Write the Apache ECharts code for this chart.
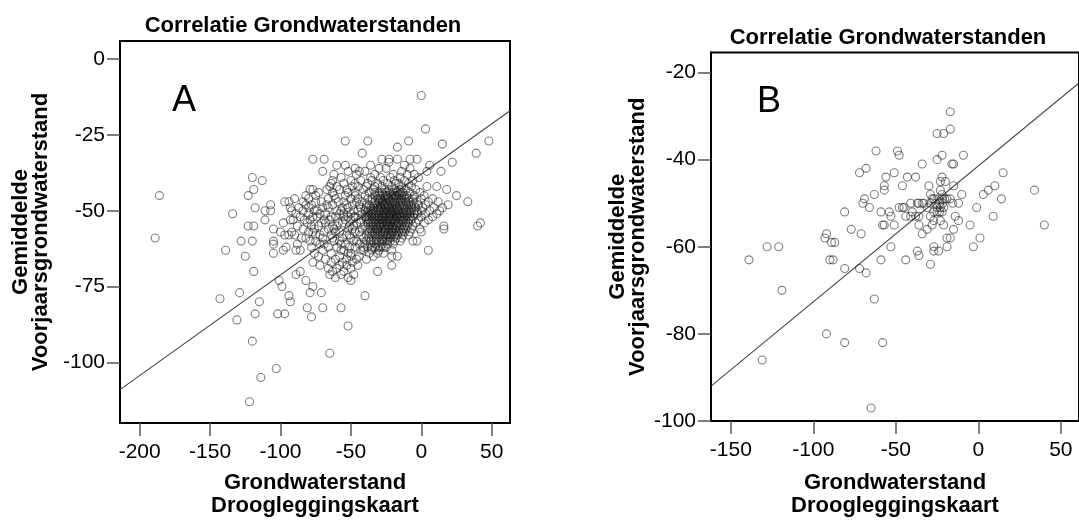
<!DOCTYPE html>
<html>
<head>
<meta charset="utf-8">
<script src="https://cdn.jsdelivr.net/npm/echarts@6/dist/echarts.min.js"></script>
<style>
  html, body { margin: 0; padding: 0; background: #fff; }
  #chart { width: 1079px; height: 522px; }
</style>
</head>
<body>
<div id="chart"></div>
<script>
// Text
const titleText = 'Correlatie Grondwaterstanden';
const xAxisName = 'Grondwaterstand\nDroogleggingskaart';
const yAxisName = 'Gemiddelde\nVoorjaarsgrondwaterstand';
const panelLetters = ['A', 'B'];

// Tick values
const xTicksA = [-200, -150, -100, -50, 0, 50];
const yTicksA = [0, -25, -50, -75, -100];
const xTicksB = [-150, -100, -50, 0, 50];
const yTicksB = [-20, -40, -60, -80, -100];

// Panel A: observations grouped by spring groundwater level (y), listing map levels (x)
const rowsA = [
  [-12, [0]],
  [-23, [3]],
  [-27, [-54, -38, -9, 48]],
  [-28, [15]],
  [-29, [-17]],
  [-31, [-42, 39]],
  [-33, [-77, -69, -28, -23, -17, -8, -3]],
  [-34, [-23, 22]],
  [-35, [-60, -54, -36, -12, 6]],
  [-36, [-47, -30, -25, -8]],
  [-37, [-70, -52, -44, -40, -14, 4, 14]],
  [-38, [-62, -46, -33, -20, -10, -5]],
  [-39, [-120, -57, -36, -29, -22, -15, -2]],
  [-40, [-113, -63, -50, -43, -35, -27, -19, -12, -6]],
  [-41, [-64, -55, -47, -38, -31, -24, -18, -16, -9]],
  [-42, [-65, -60, -49, -45, -39, -33, -28, -21, -14, -7, 4, 11]],
  [-43, [-119, -79, -77, -67, -58, -53, -41, -34, -26, -23, -19, -15, -11, -4, 18]],
  [-44, [-73, -63, -52, -47, -37, -30, -25, -20, -17, -13, -8, -1]],
  [-45, [-186, -123, -82, -75, -62, -54, -47, -40, -33, -29, -27, -24, -21, -18, -14, -10, -5, 2, 25]],
  [-46, [-90, -80, -66, -61, -50, -45, -38, -31, -26, -23, -20, -16, -12, -6, 0, 8]],
  [-47, [-97, -94, -84, -75, -71, -59, -55, -46, -42, -35, -30, -27, -25, -22, -19, -17, -13, -9, -3, 5, 12, 33]],
  [-48, [-107, -82, -78, -67, -63, -53, -49, -44, -37, -33, -29, -26, -24, -21, -18, -15, -11, -7, -2, 3, 19]],
  [-49, [-118, -93, -87, -80, -70, -66, -56, -52, -43, -39, -34, -31, -28, -25, -23, -20, -17, -14, -10, -4, 1, 9, 15]],
  [-50, [-111, -107, -92, -84, -76, -74, -60, -57, -48, -45, -40, -36, -32, -29, -27, -24, -22, -19, -16, -13, -9, -5, 0, 6, 13]],
  [-51, [-134, -89, -80, -72, -68, -58, -55, -50, -42, -38, -34, -30, -28, -25, -23, -21, -18, -15, -12, -8, -3, 3, 11]],
  [-52, [-86, -77, -74, -64, -61, -52, -47, -40, -37, -33, -30, -27, -25, -22, -20, -17, -14, -10, -6, 0, 8]],
  [-53, [-111, -93, -91, -83, -79, -69, -65, -54, -50, -43, -39, -35, -31, -28, -26, -24, -21, -18, -15, -11, -7, -2, 5]],
  [-54, [-98, -81, -71, -68, -59, -56, -46, -43, -38, -34, -30, -27, -24, -22, -19, -16, -13, -9, -4, 2, 42]],
  [-55, [-123, -119, -88, -78, -73, -63, -60, -51, -48, -40, -36, -32, -29, -26, -23, -20, -17, -14, -10, -6, 16, 40]],
  [-56, [-105, -84, -76, -66, -62, -52, -49, -42, -38, -34, -31, -28, -25, -21, -18, -15, -11, -7, -1, 16]],
  [-57, [-100, -92, -80, -77, -69, -61, -58, -47, -44, -37, -33, -29, -26, -23, -20, -16, -12, -8, 0]],
  [-58, [-97, -94, -90, -75, -72, -64, -53, -51, -43, -39, -35, -31, -27, -24, -21, -17, -13, -9]],
  [-59, [-189, -85, -82, -70, -63, -56, -50, -41, -37, -32, -28, -25, -22, -18, -14]],
  [-60, [-128, -120, -105, -79, -75, -62, -58, -48, -46, -39, -34, -30, -26, -22, -19, -15, -6, -3]],
  [-61, [-105, -88, -72, -69, -57, -54, -44, -40, -36, -32, -28, -24, -20]],
  [-62, [-96, -78, -66, -60, -51, -47, -38, -33, -29, -25]],
  [-63, [-139, -98, -89, -86, -70, -57, -55, -43, -41, -35, -30, -21, 5]],
  [-64, [-105, -76, -64, -52, -50, -37, -31, -27]],
  [-65, [-125, -73, -58, -50, -44, -34, -21, -17]],
  [-66, [-68, -61, -53, -46, -39]],
  [-67, [-77, -64, -56, -49]],
  [-68, [-72, -58, -53, -45, -21]],
  [-69, [-66, -60, -50]],
  [-70, [-119, -86, -63, -55, -31]],
  [-71, [-89, -65, -57, -48]],
  [-72, [-61, -52]],
  [-73, [-101, -82, -50]],
  [-75, [-99, -77]],
  [-77, [-129, -79, -71]],
  [-78, [-94, -40]],
  [-79, [-143]],
  [-80, [-115, -93]],
  [-82, [-81, -70, -57]],
  [-84, [-118, -102, -97]],
  [-85, [-78]],
  [-86, [-131]],
  [-88, [-52]],
  [-93, [-120]],
  [-97, [-65]],
  [-102, [-103]],
  [-105, [-114]],
  [-113, [-122]]
];

// Panel A, densest part of the cloud: further observations per level
const coreRowsA = [
  [-44, [-33, -28, -22, -15]],
  [-45, [-31, -25, -19, -16, -12]],
  [-46, [-35, -29, -24, -18, -14, -9]],
  [-47, [-33, -28, -20, -15, -11, -6]],
  [-48, [-39, -31, -27, -23, -19, -13, -9, -5]],
  [-49, [-36, -29, -26, -21, -18, -12, -7]],
  [-50, [-38, -34, -30, -26, -20, -17, -11, -7, -3]],
  [-51, [-36, -32, -26, -22, -19, -16, -13, -10, -5]],
  [-52, [-55, -48, -39, -35, -31, -28, -23, -18, -15, -12, -8]],
  [-53, [-37, -33, -29, -22, -19, -13, -9]],
  [-54, [-36, -32, -28, -25, -20, -17, -11]],
  [-55, [-34, -30, -27, -24, -21, -18, -12]],
  [-56, [-36, -32, -26, -23, -19, -13]],
  [-57, [-35, -31, -27, -21, -18, -14]],
  [-58, [-33, -29, -25, -22, -19]],
  [-60, [-36, -32, -28, -24]],
  [-62, [-41, -35, -31, -27]]
];

// Panel B: [map level, spring level] pairs
const pointsB = [
  [-17, -29], [-17, -33], [-25, -34], [-21, -34], [-62, -38], [-49, -38], [-48, -39],
  [-34, -41], [-25, -40], [-22, -39], [-16, -41], [-15, -41], [-9, -39], [-72, -43],
  [-68, -42], [-56, -44], [-51, -43], [-43, -44], [-38, -44], [-22, -44], [-23, -45],
  [-20, -45], [-15, -46], [-46, -46], [-57, -46], [-57, -47], [-63, -48], [-69, -49],
  [-70, -50], [-66, -51], [-81, -52], [-59, -52], [-54, -52], [-53, -53], [-51, -55],
  [-58, -55], [-57, -55], [-48, -51], [-46, -51], [-45, -51], [-41, -50], [-37, -50],
  [-36, -50], [-34, -50], [-33, -50], [-40, -52], [-38, -53], [-36, -53], [-36, -55],
  [-44, -53], [-41, -53], [-30, -46], [-29, -48],
  [-31, -51], [-29, -50], [-28, -49], [-27, -49], [-26, -50], [-25, -51], [-24, -49],
  [-23.5, -50], [-23, -51], [-22, -49], [-21.5, -50], [-21, -51], [-20.4, -49], [-23, -47],
  [-22, -48], [-19, -49], [-17, -49], [-15.6, -50], [-12, -50], [-10, -48], [-27, -52],
  [-25, -52], [-23.5, -52], [-22, -52], [-29, -53], [-27, -54], [-23, -54], [-21, -55],
  [-34, -57], [-31, -56], [-28, -55], [-14, -53], [-12, -54], [-15, -56], [-19, -58],
  [-17, -58], [-19, -60], [-27, -60], [-27, -61], [-24, -61], [-29, -64], [-37, -61],
  [-36, -62], [-44, -63], [-53, -60], [-59, -63], [-1, -51], [-5, -55], [-3, -60],
  [1, -58], [3, -48], [6, -47], [10, -46], [9, -53], [14, -49], [15, -43], [34, -47],
  [40, -55], [-77, -56], [-71, -57], [-92, -57], [-93, -58], [-89, -59], [-87, -59],
  [-90, -63], [-88, -63], [-81, -65], [-72, -65], [-68, -66], [-63, -72], [-128, -60],
  [-121, -60], [-139, -63], [-119, -70], [-92, -80], [-81, -82], [-58, -82], [-131, -86],
  [-65, -97]
];

// Fitted lines, end points at the plot edges
const fitA = [[-214, -109], [63, -17]];
const fitB = [[-162, -92], [61, -22.4]];

const pointsA = [];
rowsA.concat(coreRowsA).forEach(([y, xs]) => xs.forEach(x => pointsA.push([x, y])));

const FONT = '"Liberation Sans", Arial, Helvetica, sans-serif';

const frameLine = { show: true, onZero: false, lineStyle: { color: '#000', width: 2 } };

function xAxisFor(gridIndex, min, max, ticks, gap) {
  return {
    gridIndex, type: 'value', min, max, position: 'bottom',
    name: xAxisName, nameLocation: 'middle', nameGap: gap,
    nameTextStyle: { fontFamily: FONT, fontWeight: 'bold', fontSize: 22, color: '#000', lineHeight: 23 },
    axisLine: frameLine,
    axisTick: { show: true, inside: false, length: 13, customValues: ticks, lineStyle: { color: '#555', width: 1.5 } },
    axisLabel: { customValues: ticks, margin: 19, fontFamily: FONT, fontSize: 21, color: '#000' },
    splitLine: { show: false }
  };
}
function yAxisFor(gridIndex, min, max, ticks, gap) {
  return {
    gridIndex, type: 'value', min, max, position: 'left',
    name: yAxisName, nameLocation: 'middle', nameGap: gap, nameRotate: 90,
    nameTextStyle: { fontFamily: FONT, fontWeight: 'bold', fontSize: 22, color: '#000', lineHeight: 20 },
    axisLine: frameLine,
    axisTick: { show: true, inside: false, length: 13, customValues: ticks, lineStyle: { color: '#555', width: 1.5 } },
    axisLabel: { customValues: ticks, margin: 15, fontFamily: FONT, fontSize: 21, color: '#000' },
    splitLine: { show: false }
  };
}

const markerStyle = { color: 'rgba(0,0,0,0)', borderColor: 'rgba(20,20,20,0.68)', borderWidth: 1.1 };

function label(text, x, y, font) {
  return { type: 'text', x, y, style: { text, font, fill: '#000', textAlign: 'center', textVerticalAlign: 'middle', align: 'center', verticalAlign: 'middle' } };
}

const option = {
  animation: false,
  backgroundColor: '#fff',
  grid: [
    { left: 120, top: 41, width: 390, height: 387, show: true, borderColor: '#000', borderWidth: 2, backgroundColor: 'transparent' },
    { left: 711, top: 52.5, width: 378, height: 371.5, show: true, borderColor: '#000', borderWidth: 2, backgroundColor: 'transparent' }
  ],
  xAxis: [
    xAxisFor(0, -214, 63, xTicksA, 48),
    xAxisFor(1, -162, 61, xTicksB, 50)
  ],
  yAxis: [
    yAxisFor(0, -120, 6, yTicksA, 69),
    yAxisFor(1, -100, -15.4, yTicksB, 63)
  ],
  graphic: [
    label(titleText, 303, 26, 'bold 22px ' + FONT),
    label(titleText, 888, 38, 'bold 22px ' + FONT),
    label(panelLetters[0], 184, 101, '36px ' + FONT),
    label(panelLetters[1], 769, 102, '36px ' + FONT)
  ],
  series: [
    { type: 'line', xAxisIndex: 0, yAxisIndex: 0, data: fitA, showSymbol: false, symbol: 'none',
      lineStyle: { color: '#444', width: 1.1 }, z: 1, silent: true },
    { type: 'scatter', xAxisIndex: 0, yAxisIndex: 0, data: pointsA, symbol: 'circle', symbolSize: 8,
      itemStyle: markerStyle, z: 2, silent: true },
    { type: 'line', xAxisIndex: 1, yAxisIndex: 1, data: fitB, showSymbol: false, symbol: 'none',
      lineStyle: { color: '#444', width: 1.1 }, z: 1, silent: true },
    { type: 'scatter', xAxisIndex: 1, yAxisIndex: 1, data: pointsB, symbol: 'circle', symbolSize: 8,
      itemStyle: markerStyle, z: 2, silent: true }
  ]
};

const chart = echarts.init(document.getElementById('chart'), null, { renderer: 'canvas' });
chart.setOption(option);
</script>
</body>
</html>
